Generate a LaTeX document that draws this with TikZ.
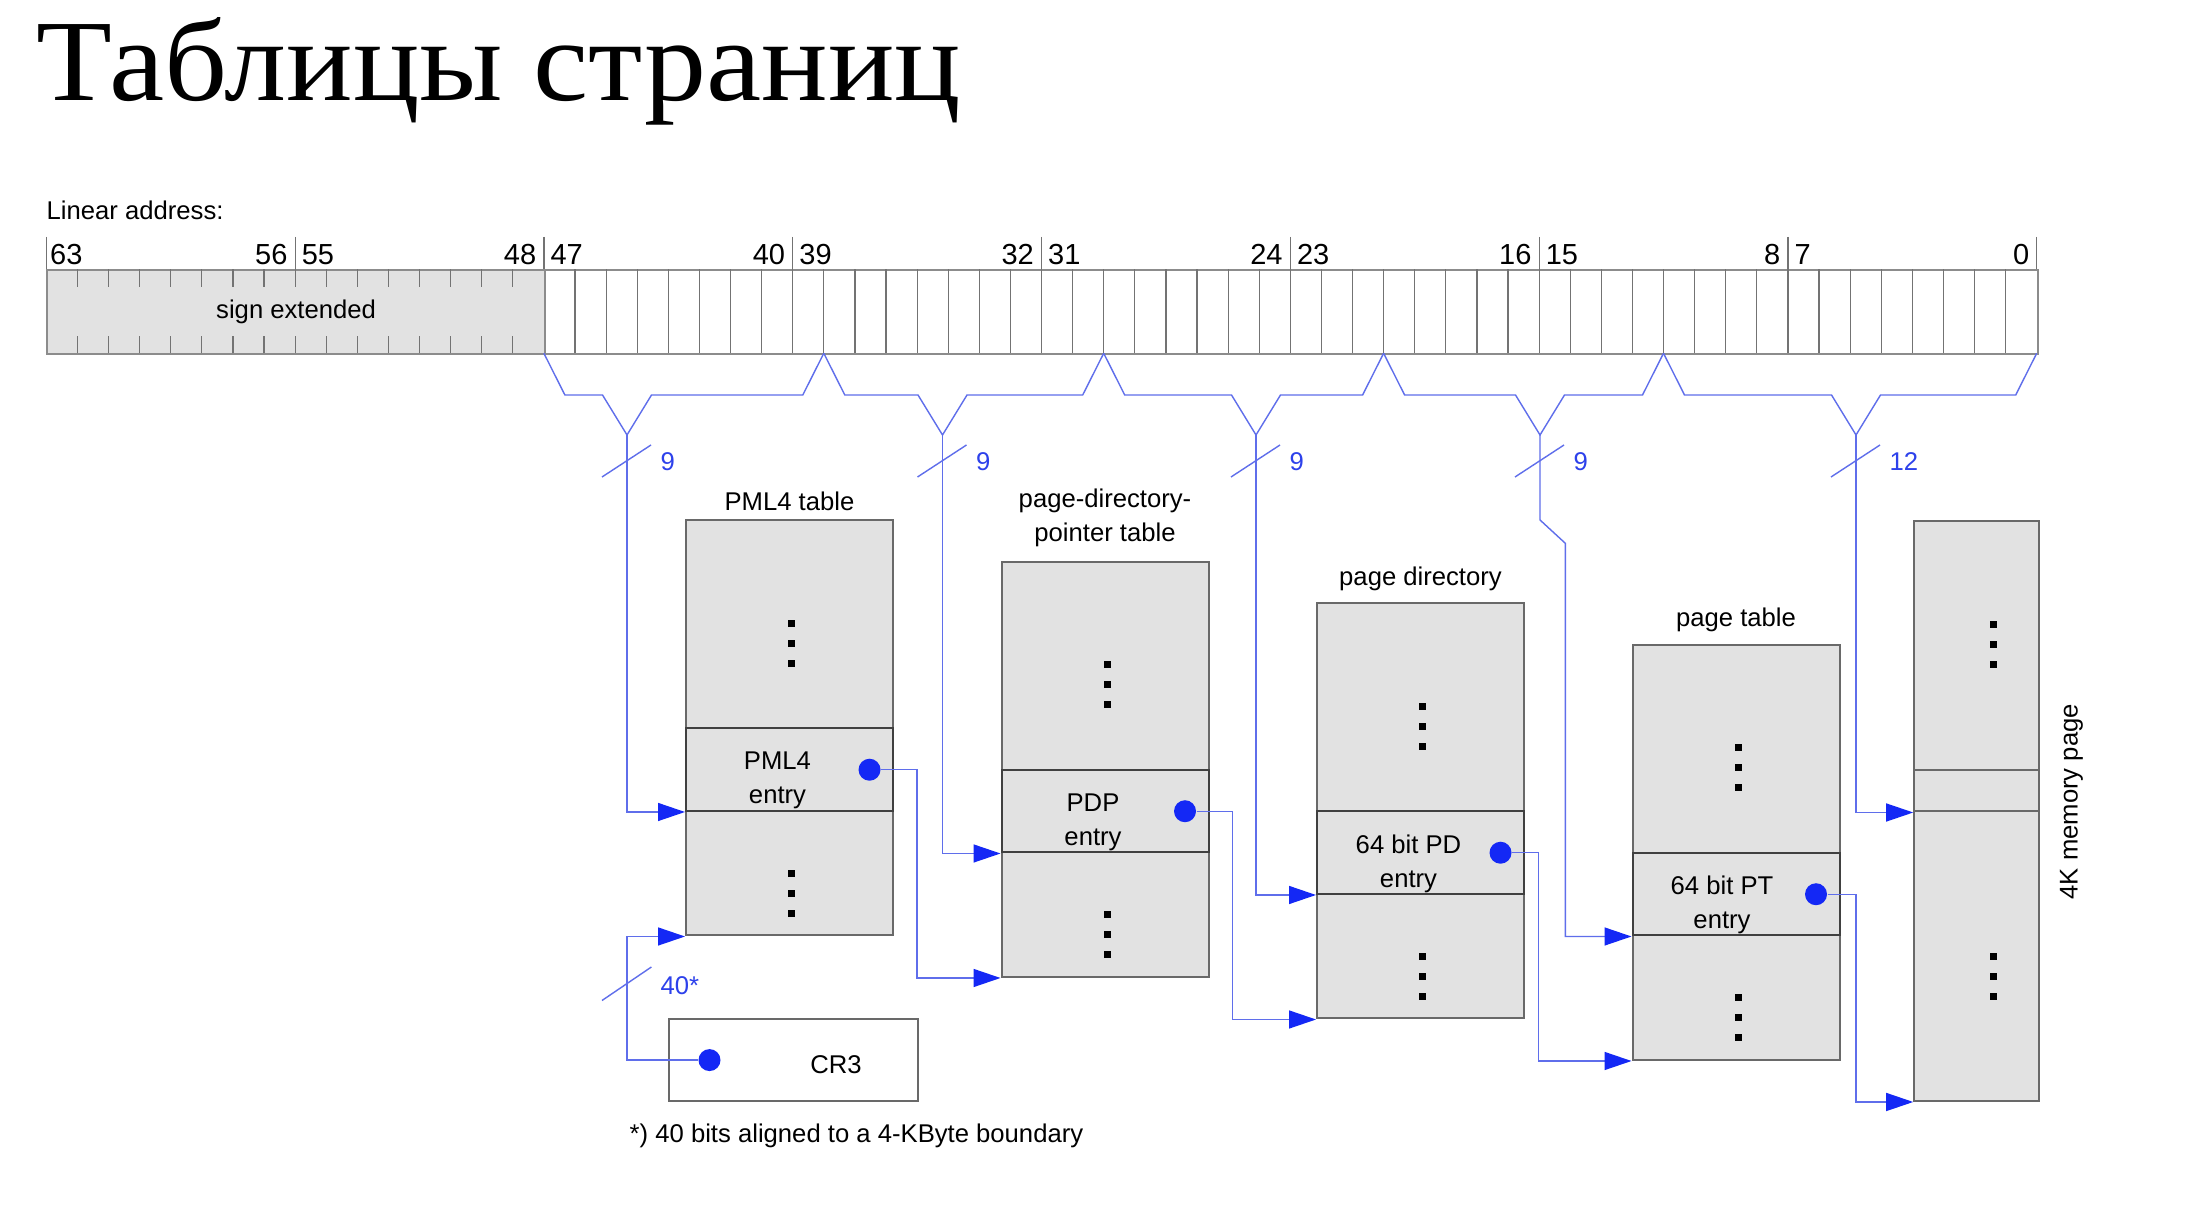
\documentclass[tikz,border=0pt]{standalone}
\usepackage{fontspec}
\setmainfont{Liberation Sans}
\newfontfamily\titlefont{Liberation Serif}
\usepackage{tikz}
\usetikzlibrary{calc,positioning,arrows.meta}

\definecolor{linkblue}{RGB}{95,110,235}
\definecolor{tipblue}{RGB}{20,40,245}
\definecolor{numblue}{RGB}{45,65,235}
\definecolor{tblgray}{RGB}{226,226,226}
\definecolor{tblline}{RGB}{105,105,105}

\newcommand{\diagfont}{\fontsize{7.3pt}{9.7pt}\selectfont}

\tikzset{
    tbl/.style={draw=tblline, fill=tblgray, line width=0.2mm, anchor=north west,
        minimum width=20.7mm, minimum height=41.5mm},
    tblentry/.style={draw=black!75, line width=0.2mm, anchor=north west,
        minimum width=20.7mm, minimum height=8.25mm},
    link/.style={draw=linkblue, line width=0.14mm,
        -{Triangle[length=2.7mm,width=1.8mm,color=tipblue]}},
    bracket/.style={draw=linkblue, line width=0.14mm},
    entrydot/.style={circle, fill=tipblue, minimum size=2.2mm},
    bitsep/.style={draw=black!55, line width=0.12mm},
    bitnum/.style={font=\fontsize{8.25pt}{9pt}\selectfont},
}

\begin{document}
\begin{tikzpicture}[x=0.1mm, y=-0.1mm, every node/.style={inner sep=0pt, font=\diagfont}]

    \fill[white] (0,0) rectangle (2206,1224);
    \useasboundingbox (0,0) rectangle (2206,1224);

    \node[anchor=base west, xscale=1.07, font=\titlefont\fontsize{33pt}{36pt}\selectfont] (title) at (36,101) {Таблицы страниц};

    % Linear address bar
    \node[anchor=base west] (linaddr) at (46,220) {Linear address:};
    \node[draw=black!45, line width=0.2mm, anchor=north west, minimum width=199.04mm, minimum height=8.4mm] (addr) at (46.3,269.3) {};
    \node[draw=black!45, fill=tblgray, line width=0.2mm, anchor=north west, minimum width=49.76mm, minimum height=8.4mm] (sign) at (46.3,269.3) {sign extended};

    \foreach \k in {1,...,15} {
        \draw[bitsep] (46.3+\k*31.1,269.3) -- ++(0,17.5);
        \draw[bitsep] (46.3+\k*31.1,353.3) -- ++(0,-17);
    }
    \foreach \k in {17,...,63}
        \draw[bitsep] (46.3+\k*31.1,269.3) -- ++(0,84);
    \foreach \k in {0,8,...,64}
        \draw[bitsep] (46.3+\k*31.1,237) -- ++(0,32.3);

    \node[bitnum, anchor=base west] (b63) at (49.5,265) {63};
    \foreach \k/\hi/\lo in {8/56/55,16/48/47,24/40/39,32/32/31,40/24/23,48/16/15,56/8/7} {
        \node[bitnum, anchor=base east] (b\hi) at (46.3+\k*31.1-7,265) {\hi};
        \node[bitnum, anchor=base west] (b\lo) at (46.3+\k*31.1+6,265) {\lo};
    }
    \node[bitnum, anchor=base east] (b0) at (2030,265) {0};

    % Index fields
    \foreach \xl/\xv/\xr/\w [count=\i] in {543.9/627/823.8/9, 823.8/942.5/1103.7/9,
            1103.7/1256/1383.6/9, 1383.6/1540/1663.5/9, 1663.5/1856/2036.7/12} {
        \draw[bracket] (\xl,353.3) -- (\xl+21,395) -- (\xv-24.5,395) -- (\xv,435)
            -- (\xv+24.5,395) -- (\xr-21,395) -- (\xr,353.3);
        \coordinate (v\i) at (\xv,435);
        \draw[bracket] (\xv-25,477) -- (\xv+24,445);
        \node[anchor=west, text=numblue] (w\i) at (\xv+33,462) {\w};
    }

    % Tables
    \node[tbl] (pml4) at (685,519.5) {};
    \node[tbl] (pdp) at (1000.5,561) {};
    \node[tbl] (pd) at (1316,602.5) {};
    \node[tbl] (pt) at (1631.5,644) {};
    \node[tbl, minimum width=12.46mm, minimum height=58mm] (mem) at (1913.2,520) {};

    \node[tblentry] (pml4e) at ([yshift=-20.8mm]pml4.north west) {};
    \node[tblentry] (pdpe) at ([yshift=-20.8mm]pdp.north west) {};
    \node[tblentry] (pde) at ([yshift=-20.8mm]pd.north west) {};
    \node[tblentry] (pte) at ([yshift=-20.8mm]pt.north west) {};
    \node[tblentry, draw=tblline, minimum width=12.46mm, minimum height=4.15mm] (meme) at (1913.2,769) {};

    \node[align=center] (pml4t) at ([shift={(-12,11)}]pml4e.center) {PML4\\entry};
    \node[align=center] (pdpt) at ([shift={(-12,11)}]pdpe.center) {PDP\\entry};
    \node[align=center] (pdt) at ([shift={(-12,11)}]pde.center) {64 bit PD\\entry};
    \node[align=center] (ptt) at ([shift={(-14,11)}]pte.center) {64 bit PT\\entry};

    \node[anchor=base] (pml4lbl) at ([yshift=0.85mm]pml4.north) {PML4 table};
    \node[anchor=south, align=center] (pdplbl) at ([yshift=1.3mm]pdp.north) {page-directory-\\pointer table};
    \node[anchor=base] (pdlbl) at ([yshift=1.65mm]pd.north) {page directory};
    \node[anchor=base] (ptlbl) at ([yshift=1.75mm]pt.north) {page table};
    \node[rotate=90] (memlbl) at (2071.5,801.7) {4K memory page};

    % vertical dots
    \foreach \t in {pml4,pdp,pd,pt}
        \foreach \dy in {124,374}
            \foreach \k in {-20,0,20}
                \fill ($(\t.north)+(-1.5,\dy+\k-3.5)$) rectangle ++(7,7);
    \foreach \dy in {125,457}
        \foreach \k in {-20,0,20}
            \fill ($(mem.north west)+(76.5,\dy+\k-3.5)$) rectangle ++(7,7);

    % CR3
    \node[draw=tblline, line width=0.2mm, anchor=north west, minimum width=24.9mm, minimum height=8.26mm] (cr3) at (668,1017.8) {};
    \node (cr3t) at ([shift={(42.5,5)}]cr3.center) {CR3};
    \node[entrydot] (c0) at ([xshift=4.15mm]cr3.west) {};
    \draw[link] (c0) -| ([xshift=-5.8mm]pml4.south west) -- (pml4.south west);
    \draw[bracket] (602,1000.5) -- (651.4,967);
    \node[anchor=west, text=numblue] (w0) at (660,986) {40*};

    % Index into each table
    \draw[link] (v1) |- (pml4e.south west);
    \draw[link] (v2) |- (pdpe.south west);
    \draw[link] (v3) |- (pde.south west);
    \draw[link] (v4) -- ++(0,85) -- ++(25.3,23.3) |- (pte.south west);
    \draw[link] (v5) |- (meme.south west);

    % Entry points to next table
    \node[entrydot] (d1) at ([xshift=-2.45mm]pml4e.east) {};
    \node[entrydot] (d2) at ([xshift=-2.45mm]pdpe.east) {};
    \node[entrydot] (d3) at ([xshift=-2.45mm]pde.east) {};
    \node[entrydot] (d4) at ([xshift=-2.45mm]pte.east) {};
    \draw[link] (d1) -| ([xshift=-8.35mm]pdp.south west) -- (pdp.south west);
    \draw[link] (d2) -| ([xshift=-8.33mm]pd.south west) -- (pd.south west);
    \draw[link] (d3) -| ([xshift=-9.28mm]pt.south west) -- (pt.south west);
    \draw[link] (d4) -| ([xshift=-5.72mm]mem.south west) -- (mem.south west);

    \node[anchor=west] (note) at (629,1136) {*) 40 bits aligned to a 4-KByte boundary};

\end{tikzpicture}
\end{document}
